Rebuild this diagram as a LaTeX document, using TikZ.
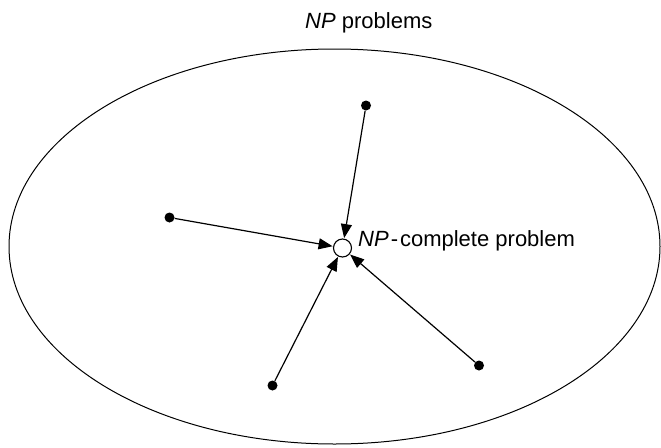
\documentclass[tikz,border=0pt]{standalone}
\usepackage{fontspec}
\setmainfont{Liberation Sans}
\usetikzlibrary{arrows.meta}
\begin{document}
\begin{tikzpicture}[x=1pt,y=-1pt,
  dotnode/.style={circle,fill=black,inner sep=0pt,minimum size=10pt},
  hub/.style={circle,draw=black,line width=1.1pt,fill=white,inner sep=0pt,minimum size=18pt},
  reduce/.style={line width=1.2pt,-{Triangle[length=14pt,width=11pt]},shorten >=0.5pt},
  lbl/.style={inner sep=0pt,font=\fontsize{22}{26}\selectfont}]
\useasboundingbox (0,0) rectangle (661,447);
\draw[line width=1pt] (334.5,246.5) ellipse [x radius=325.5, y radius=197.5];
\node[lbl,anchor=base west] (title) at (305,28) {\textit{NP} problems};
\node[hub] (c) at (342.5,248) {};
\node[lbl,anchor=base west] (clabel) at (358,246) {\textit{NP}\kern2pt-\kern2pt complete problem};
\node[dotnode] (d1) at (366,105.5) {};
\node[dotnode] (d2) at (169.5,217.5) {};
\node[dotnode] (d3) at (272.5,385.5) {};
\node[dotnode] (d4) at (479,365.5) {};
\draw[reduce] (d1) -- (c);
\draw[reduce] (d2) -- (c);
\draw[reduce] (d3) -- (c);
\draw[reduce] (d4) -- (c);
\end{tikzpicture}
\end{document}
